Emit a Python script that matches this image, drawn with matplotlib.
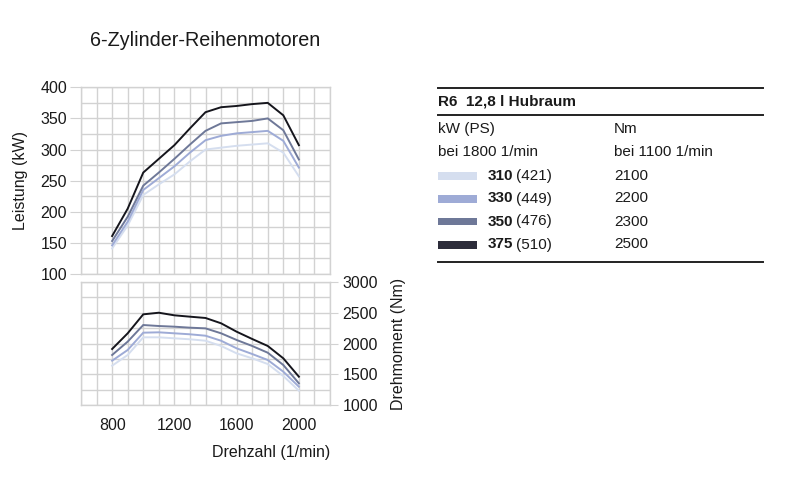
import matplotlib
matplotlib.use("Agg")
import matplotlib.pyplot as plt
from matplotlib.lines import Line2D
from matplotlib.patches import Rectangle

plt.rcParams['font.family'] = ['Liberation Sans', 'DejaVu Sans']

rpm = [800, 900, 1000, 1100, 1200, 1300, 1400, 1500, 1600, 1700, 1800, 1900, 2000]

power_310 = [141, 178, 227, 244, 260, 281, 300, 303, 306, 308, 310, 295, 257]
power_330 = [146, 184, 235, 254, 273, 295, 315, 322, 326, 328, 330, 314, 271]
power_350 = [153, 192, 242, 263, 285, 308, 330, 342, 344, 346, 350, 331, 284]
power_375 = [161, 205, 263, 285, 307, 334, 360, 368, 370, 373, 375, 355, 307]

torque_310 = [1641, 1814, 2100, 2100, 2084, 2068, 2045, 1960, 1841, 1760, 1668, 1474, 1236]
torque_330 = [1722, 1895, 2175, 2181, 2165, 2149, 2126, 2045, 1922, 1830, 1733, 1544, 1301]
torque_350 = [1814, 2030, 2299, 2283, 2272, 2256, 2245, 2165, 2057, 1960, 1851, 1652, 1356]
torque_375 = [1911, 2165, 2472, 2498, 2456, 2434, 2413, 2327, 2191, 2073, 1960, 1760, 1463]

series_kw = ['310', '330', '350', '375']
series_ps = ['(421)', '(449)', '(476)', '(510)']
series_nm = ['2100', '2200', '2300', '2500']
line_colors = ['#d5deef', '#9eabd6', '#6e7898', '#15151c']
swatch_colors = ['#d5deef', '#9eabd6', '#6e7898', '#2c2c3a']

power_ticks = [100, 150, 200, 250, 300, 350, 400]
torque_ticks = [1000, 1500, 2000, 2500, 3000]
rpm_ticks = [800, 1200, 1600, 2000]

grid_c = '#d2d2d2'
text_c = '#1a1a1a'
W, H = 800, 480
FS = 11.5

fig = plt.figure(figsize=(8, 4.8), dpi=100)

def fx(px):
    return px / W

def fy(py):
    return 1 - py / H

ax1 = fig.add_axes([fx(81), fy(274), fx(330) - fx(81), fy(87.3) - fy(274)])
ax2 = fig.add_axes([fx(81), fy(405.3), fx(330) - fx(81), fy(281.7) - fy(405.3)])

powers = [power_310, power_330, power_350, power_375]
torques = [torque_310, torque_330, torque_350, torque_375]

for ax in (ax1, ax2):
    ax.set_xlim(600, 2200)
    for s in ax.spines.values():
        s.set_color(grid_c)
        s.set_linewidth(1.0)
    ax.set_axisbelow(True)

for vals, c in zip(powers, line_colors):
    ax1.plot(rpm, vals, color=c, lw=1.4, solid_joinstyle='miter')
ax1.set_ylim(100, 400)
ax1.set_yticks(power_ticks)
ax1.set_yticks(range(100, 401, 25), minor=True)
ax1.set_xticks([])
ax1.set_xticks(range(600, 2201, 100), minor=True)
ax1.grid(True, which='both', color=grid_c, lw=1.0)
ax1.tick_params(axis='y', which='major', length=8, color=grid_c, labelsize=FS,
                labelcolor=text_c, pad=2)
ax1.tick_params(axis='y', which='minor', length=0)
ax1.tick_params(axis='x', which='both', length=0)
ax1.set_ylabel('Leistung (kW)', fontsize=FS, color=text_c, labelpad=9)

for vals, c in zip(torques, line_colors):
    ax2.plot(rpm, vals, color=c, lw=1.4, solid_joinstyle='miter')
ax2.set_ylim(1000, 3000)
ax2.set_yticks(torque_ticks)
ax2.set_yticks(range(1000, 3001, 250), minor=True)
ax2.set_xticks(rpm_ticks)
ax2.set_xticks(range(600, 2201, 100), minor=True)
ax2.grid(True, which='both', color=grid_c, lw=1.0)
ax2.yaxis.tick_right()
ax2.yaxis.set_label_position('right')
ax2.tick_params(axis='y', which='major', length=6, color=grid_c, labelsize=FS,
                labelcolor=text_c, pad=3)
ax2.tick_params(axis='y', which='minor', length=0)
ax2.tick_params(axis='x', which='both', length=0, labelsize=FS, labelcolor=text_c, pad=9)
ax2.set_ylabel('Drehmoment (Nm)', fontsize=FS, color=text_c, labelpad=9)

fig.text(fx(330), fy(452), 'Drehzahl (1/min)', ha='right', va='center',
         fontsize=FS, color=text_c)

fig.text(fx(90), fy(40), '6-Zylinder-Reihenmotoren', ha='left', va='center',
         fontsize=14.2, color=text_c)

# table / legend
x0, x1 = 438, 763
for yy in (88.3, 115, 261.5):
    fig.add_artist(Line2D([fx(x0), fx(x1)], [fy(yy), fy(yy)], color='#222222', lw=1.4))

TS = 11
fig.text(fx(438), fy(102), 'R6  12,8 l Hubraum', ha='left', va='center',
         fontsize=TS, color=text_c, fontweight='bold')
fig.text(fx(438), fy(129), 'kW (PS)', ha='left', va='center', fontsize=TS, color=text_c)
fig.text(fx(614), fy(129), 'Nm', ha='left', va='center', fontsize=TS, color=text_c)
fig.text(fx(438), fy(152), 'bei 1800 1/min', ha='left', va='center', fontsize=TS, color=text_c)
fig.text(fx(614), fy(152), 'bei 1100 1/min', ha='left', va='center', fontsize=TS, color=text_c)

row_y = [176, 198.5, 221.5, 244.5]
for yy, kw, ps, nm, sc in zip(row_y, series_kw, series_ps, series_nm, swatch_colors):
    fig.add_artist(Rectangle((fx(438), fy(yy + 4)), fx(477) - fx(438), fy(yy - 4) - fy(yy + 4),
                             facecolor=sc, edgecolor='none', transform=fig.transFigure))
    fig.text(fx(488), fy(yy), kw, ha='left', va='center', fontsize=TS,
             color=text_c, fontweight='bold')
    fig.text(fx(516), fy(yy), ps, ha='left', va='center', fontsize=TS, color=text_c)
    fig.text(fx(614), fy(yy), nm, ha='left', va='center', fontsize=TS, color=text_c)

fig.savefig('out.png', dpi=100, facecolor='white')
